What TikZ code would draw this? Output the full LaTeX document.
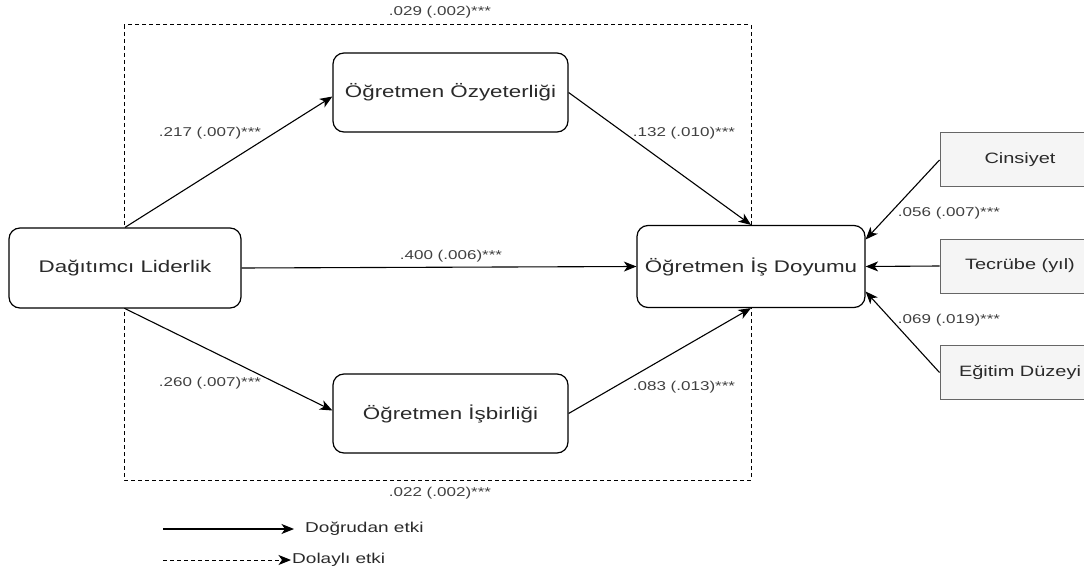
\documentclass[tikz,border=0pt]{standalone}
\usepackage{fontspec}
\setmainfont{Liberation Sans}[FakeStretch=1.33]
\usetikzlibrary{arrows.meta}
\definecolor{txt}{HTML}{2A2A2A}
\definecolor{lbl}{HTML}{404040}
\definecolor{ctrlfill}{HTML}{F5F5F5}
\definecolor{ctrldraw}{HTML}{666666}
\tikzset{
  tip/.tip={Stealth[length=12.5pt,width=10pt,inset=3.5pt]},
  mainbox/.style={draw=black, line width=1.2pt, rounded corners=11pt, fill=white,
    minimum width=232pt, minimum height=80pt, text=txt, font=\fontsize{16.8}{18}\selectfont},
  ctrlbox/.style={draw=ctrldraw, line width=1pt, fill=ctrlfill,
    minimum width=160pt, minimum height=54pt, text=txt, font=\fontsize{15}{17}\selectfont},
  coef/.style={text=lbl, font=\fontsize{12.8}{14}\selectfont, inner sep=0pt},
  legtext/.style={text=txt, font=\fontsize{14.3}{15}\selectfont, inner sep=0pt, anchor=west},
  effect/.style={draw=black, line width=1.1pt, -tip},
  indirect/.style={draw=black, line width=1pt, dash pattern=on 4pt off 3pt}
}
\begin{document}
\begin{tikzpicture}[x=1pt,y=-1pt]
\useasboundingbox (0,0) rectangle (1084,572);
\clip (0,0) rectangle (1084,572);

% indirect-effect frame
\draw[indirect] (124,25) rectangle (751,480);

% main constructs
\node[mainbox] (dl) at (125,268) {Dağıtımcı Liderlik};
\node[mainbox, minimum width=235pt, minimum height=79pt] (oz) at (450.5,92.5) {Öğretmen Özyeterliği};
\node[mainbox, minimum width=235pt, minimum height=79pt] (is) at (450.5,413.5) {Öğretmen İşbirliği};
\node[mainbox, minimum width=228pt, minimum height=82pt] (doy) at (751,266.5) {Öğretmen İş Doyumu};

% control variables
\node[ctrlbox] (cins) at (1020,160) {Cinsiyet};
\node[ctrlbox] (tec) at (1020,266) {Tecrübe (yıl)};
\node[ctrlbox] (egt) at (1020,372.5) {Eğitim Düzeyi};

% direct effects
\draw[effect] (dl.north) -- ([yshift=-4pt]oz.west);
\draw[effect] (dl.south) -- ([yshift=3pt]is.west);
\draw[effect] (dl.east) -- (doy.west);
\draw[effect] (oz.east) -- (doy.north);
\draw[effect] (is.east) -- (doy.south);
\draw[effect] (cins.west) -- ([yshift=27pt]doy.east);
\draw[effect] (tec.west) -- (doy.east);
\draw[effect] (egt.west) -- ([yshift=-25pt]doy.east);

% coefficients
\node[coef] (c1) at (440,12) {.029 (.002)***};
\node[coef] (c2) at (440,493) {.022 (.002)***};
\node[coef] (c3) at (210,133) {.217 (.007)***};
\node[coef] (c4) at (210,383) {.260 (.007)***};
\node[coef] (c5) at (451,256) {.400 (.006)***};
\node[coef] (c6) at (684,133) {.132 (.010)***};
\node[coef] (c7) at (684,387) {.083 (.013)***};
\node[coef] (c8) at (949,213) {.056 (.007)***};
\node[coef] (c9) at (949,320) {.069 (.019)***};

% legend
\coordinate (la) at (163,529);
\coordinate (lb) at (294,529);
\coordinate (lc) at (163,560);
\coordinate (ld) at (291,560);
\draw[effect] (la) -- (lb);
\draw[indirect, -tip] (lc) -- (ld);
\node[legtext] (t1) at (305,529) {Doğrudan etki};
\node[legtext] (t2) at (292,560) {Dolaylı etki};
\end{tikzpicture}
\end{document}
